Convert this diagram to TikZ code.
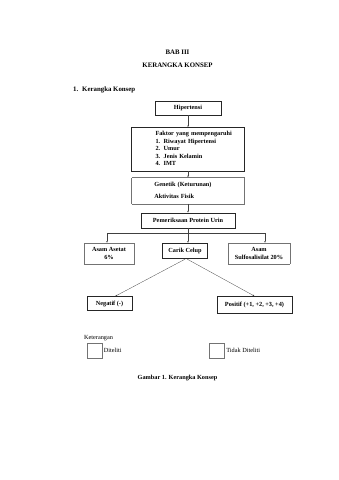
\documentclass[tikz,border=0pt]{standalone}
\usepackage{fontspec}
\setmainfont{Liberation Serif}
\usepackage{tikz}
\usetikzlibrary{arrows.meta, positioning}

\begin{document}
\begin{tikzpicture}[
    x=1.755pt, y=-1.755pt,
    node distance=21pt,
    font=\fontsize{11}{13}\selectfont\bfseries,
    box/.style={
        rectangle,
        draw=black!85,
        line width=0.5pt,
        inner sep=0pt,
        align=center
    },
    dotbox/.style={
        box,
        draw=black!55,
        densely dotted
    },
    keybox/.style={
        rectangle,
        draw=black!55,
        line width=0.5pt,
        minimum size=26pt
    },
    arrow/.style={-{Latex[length=3pt,width=2.6pt]}, black!75, line width=0.5pt},
    link/.style={black!75, line width=0.5pt}
]

\useasboundingbox (0,0) rectangle (339,480);

% judul
\node[font=\fontsize{12}{14}\selectfont\bfseries] (bab) at (177.5,52) {BAB III};
\node[font=\fontsize{12}{14}\selectfont\bfseries] (judul) at (177.5,65) {KERANGKA KONSEP};
\node[font=\fontsize{12}{14}\selectfont\bfseries, anchor=west, inner sep=0pt] (subjudul) at (73,90)
    {1.\hspace{7pt}Kerangka Konsep};

% alur utama
\node[box, minimum width=116pt, minimum height=25pt] (hipertensi) at (188,108) {Hipertensi};

\node[box, below=21pt of hipertensi, text width=198pt, align=left,
      minimum height=77pt] (faktor) {
    \begin{tabular}{@{\hspace{42pt}}l@{\hspace{6pt}}l@{}}
    \multicolumn{2}{@{\hspace{42pt}}l@{}}{Faktor yang mempengaruhi}\\
    1. & Riwayat Hipertensi\\
    2. & Umur\\
    3. & Jenis Kelamin\\
    4. & IMT
    \end{tabular}
};

\node[dotbox, below=10.5pt of faktor, text width=198pt, align=left,
      minimum height=46pt] (genetik) {
    \begin{tabular}{@{\hspace{40pt}}l@{}}
    Genetik (Keturunan)\\[8pt]
    Aktivitas Fisik
    \end{tabular}
};

\node[box, below=15.5pt of genetik, minimum width=165pt, minimum height=26pt] (protein)
    {Pemeriksaan Protein Urin};

% cabang pemeriksaan
\coordinate (hub) at (188,233);
\coordinate (hubL) at (107,233);
\coordinate (hubR) at (265,233);

\node[dotbox, minimum width=88pt, minimum height=37pt] (asetat) at (109,253.5)
    {Asam Asetat\\6\%};
\node[box, minimum width=79pt, minimum height=26pt] (carik) at (185,250.5)
    {Carik Celup};
\node[dotbox, minimum width=109pt, minimum height=37pt] (sulfo) at (259,253.5)
    {Asam\\Sulfosalisilat 20\%};

\node[box, minimum width=79pt, minimum height=25pt] (negatif) at (109.5,303.5)
    {Negatif (-)};
\node[box, minimum width=132pt, minimum height=29pt] (positif) at (254.5,304.5)
    {Positif (+1, +2, +3, +4)};

\draw[arrow] (hipertensi) -- (faktor);
\draw[arrow] (faktor) -- (genetik);
\draw[arrow] (genetik) -- (protein);
\draw[link] (protein) -- (hub);
\draw[link] (hubL) -- (hubR);
\draw[arrow] (hubL) -- (hubL |- asetat.north);
\draw[arrow] (hub) -- (hub |- carik.north);
\draw[arrow] (hubR) -- (hubR |- sulfo.north);
\draw[arrow] ([yshift=-2pt]carik.south) -- ([xshift=10pt]negatif.north);
\draw[arrow] ([xshift=4pt,yshift=-2pt]carik.south) -- (positif.north);

% keterangan
\node[font=\fontsize{11}{13}\selectfont, anchor=west, inner sep=0pt] (ket) at (84,338) {Keterangan};
\node[keybox] (diteliti) at (94.5,350.5) {};
\node[font=\fontsize{11}{13}\selectfont, anchor=west, inner sep=0pt, right=3pt of diteliti] (ditelititxt) {Diteliti};
\node[keybox] (tidak) at (217,350.5) {};
\node[font=\fontsize{11}{13}\selectfont, anchor=west, inner sep=0pt, right=3pt of tidak] (tidaktxt) {Tidak Diteliti};

% keterangan gambar
\node[font=\fontsize{11}{13}\selectfont\bfseries] (gambar) at (177.5,378) {Gambar 1. Kerangka Konsep};

\end{tikzpicture}
\end{document}
